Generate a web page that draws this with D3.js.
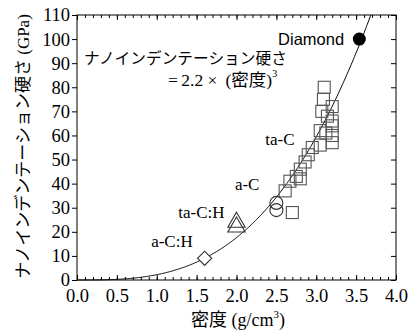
<!DOCTYPE html>
<html><head><meta charset="utf-8">
<script src="https://cdn.jsdelivr.net/npm/d3@7"></script>
<style>body{margin:0;background:#fff}svg{display:block}</style>
</head><body><svg id="c" width="412" height="333"></svg>
<script>
const xTicks = [0.0,0.5,1.0,1.5,2.0,2.5,3.0,3.5,4.0];
const yTicks = [0,10,20,30,40,50,60,70,80,90,100,110];
const squares = [[3.10,80],[3.09,75],[3.20,72],[3.07,70],[3.14,68],[3.20,66],[3.20,64],[3.05,62],[3.12,61],[3.20,60],[3.20,57],[3.05,56],[2.95,55],[2.90,52],[2.86,49],[2.80,46],[2.75,43],[2.80,42],[2.67,41],[2.61,37],[2.70,28]];
const circles = [[2.5,32],[2.5,29]];
const triangles = [[2.0,24],[2.0,22]];
const diamonds = [[1.6,9]];
const filled = [[3.54,100]];
const coef = 2.2;
const labels = [{t:"Diamond",x:3.35,y:100},{t:"ta-C",x:2.36,y:58.5},{t:"a-C",x:1.98,y:40},{t:"ta-C:H",x:1.27,y:28},{t:"a-C:H",x:0.93,y:16}];

const svg = d3.select("#c");
const x = d3.scaleLinear([0,4],[77,396]);
const y = d3.scaleLinear([0,110],[280,15]);
const serif = "'Liberation Serif','Noto Sans CJK JP',serif";
const sans = "'Liberation Sans',Arial,sans-serif";

// frame
svg.append("rect").attr("x",x(0)).attr("y",y(110)).attr("width",x(4)-x(0)).attr("height",y(0)-y(110))
  .attr("fill","none").attr("stroke","#000").attr("stroke-width",1);

const minorX = d3.range(0,4.0001,0.1);
// bottom axis
const gb = svg.append("g").attr("transform",`translate(0,${y(0)})`)
  .call(d3.axisBottom(x).tickValues(xTicks).tickFormat(d3.format(".1f")).tickSize(-5).tickPadding(9));
gb.select(".domain").remove();
gb.selectAll("text").style("font-family",serif).style("font-size","18.5px").attr("fill","#000");
svg.append("g").attr("transform",`translate(0,${y(0)})`)
  .call(d3.axisBottom(x).tickValues(minorX).tickFormat("").tickSize(-3))
  .select(".domain").remove();
// top axis
const gt = svg.append("g").attr("transform",`translate(0,${y(110)})`)
  .call(d3.axisTop(x).tickValues(xTicks).tickFormat("").tickSize(-5));
gt.select(".domain").remove();
svg.append("g").attr("transform",`translate(0,${y(110)})`)
  .call(d3.axisTop(x).tickValues(minorX).tickFormat("").tickSize(-3))
  .select(".domain").remove();
// left axis
const gl = svg.append("g").attr("transform",`translate(${x(0)},0)`)
  .call(d3.axisLeft(y).tickValues(yTicks).tickSize(5).tickPadding(2));
gl.select(".domain").remove();
gl.selectAll("text").style("font-family",serif).style("font-size","18.5px").attr("fill","#000");
// right axis
svg.append("g").attr("transform",`translate(${x(4)},0)`)
  .call(d3.axisRight(y).tickValues(yTicks).tickFormat("").tickSize(-5))
  .select(".domain").remove();

// curve
const xmax = Math.cbrt(110/coef);
const curvePts = d3.range(0, xmax, 0.01).concat([xmax]);
svg.append("path").datum(curvePts)
  .attr("d", d3.line().x(d=>x(d)).y(d=>y(coef*d*d*d)))
  .attr("fill","none").attr("stroke","#000").attr("stroke-width",1);

// markers
const sq = 12;
svg.append("g").selectAll("rect").data(squares).join("rect")
  .attr("x",d=>x(d[0])-sq/2).attr("y",d=>y(d[1])-sq/2).attr("width",sq).attr("height",sq)
  .attr("fill","none").attr("stroke","#555").attr("stroke-width",1.1);
svg.append("g").selectAll("circle").data(circles).join("circle")
  .attr("cx",d=>x(d[0])).attr("cy",d=>y(d[1])).attr("r",6.5)
  .attr("fill","none").attr("stroke","#333").attr("stroke-width",1.1);
svg.append("g").selectAll("path").data(triangles).join("path")
  .attr("transform",d=>`translate(${x(d[0])},${y(d[1])})`)
  .attr("d",d3.symbol(d3.symbolTriangle,130))
  .attr("fill","none").attr("stroke","#333").attr("stroke-width",1.1);
svg.append("g").selectAll("path").data(diamonds).join("path")
  .attr("transform",d=>`translate(${x(d[0])},${y(d[1])}) rotate(45)`)
  .attr("d",d3.symbol(d3.symbolSquare,100))
  .attr("fill","#fff").attr("stroke","#333").attr("stroke-width",1.1);
svg.append("g").selectAll("circle").data(filled).join("circle")
  .attr("cx",d=>x(d[0])).attr("cy",d=>y(d[1])).attr("r",6.5).attr("fill","#000");

// labels
svg.append("g").selectAll("text").data(labels).join("text")
  .attr("x",d=>x(d.x)).attr("y",d=>y(d.y)).attr("dy","0.35em")
  .attr("text-anchor",d=>d.t==="Diamond"?"end":"start")
  .style("font-family",d=>d.t==="Diamond"?sans:serif)
  .style("font-size",d=>d.t==="Diamond"?"16.5px":"17px").attr("fill","#000")
  .text(d=>d.t);

// annotation
svg.append("text").attr("x",84).attr("y",64).style("font-family",serif).style("font-size","15.7px")
  .attr("fill","#000").text("ナノインデンテーション硬さ");
const a2 = svg.append("text").attr("x",168).attr("y",86).style("font-family",serif).style("font-size","17.5px").attr("fill","#000");
a2.append("tspan").text("=\u20092.2 ×");
a2.append("tspan").attr("dx",8).text("(密度)");
a2.append("tspan").style("font-size","10px").attr("dy",-9).text("3");

// axis titles
const xt = svg.append("text").attr("x",238).attr("y",326).attr("text-anchor","middle")
  .style("font-family",serif).style("font-size","18px").attr("fill","#000");
xt.append("tspan").text("密度 (g/cm");
xt.append("tspan").style("font-size","11px").attr("dy",-8).text("3");
xt.append("tspan").attr("dy",8).text(")");

svg.append("text").attr("transform",`translate(29,${(y(0)+y(110))/2 - 1}) rotate(-90)`)
  .attr("text-anchor","middle").style("font-family",serif).style("font-size","17px").attr("fill","#000")
  .text("ナノインデンテーション硬さ (GPa)");
</script></body></html>
